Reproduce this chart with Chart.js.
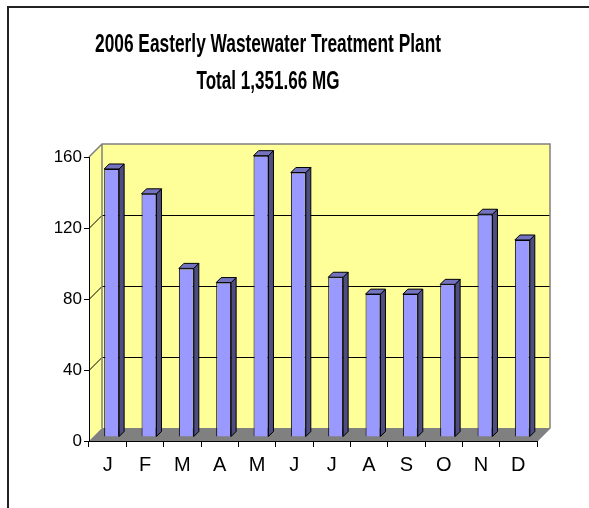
<!DOCTYPE html>
<html>
<head>
<meta charset="utf-8">
<script src="https://cdn.jsdelivr.net/npm/chart.js@4/dist/chart.umd.min.js"></script>
<style>
  body { margin: 0; background: #fff; }
  #wrap { width: 589px; height: 508px; }
</style>
</head>
<body>
<div id="wrap"><canvas id="flowChart" width="589" height="508"></canvas></div>
<script>
const months = ['J', 'F', 'M', 'A', 'M', 'J', 'J', 'A', 'S', 'O', 'N', 'D'];
const flowMG = [151, 137, 95, 87, 158.5, 149, 90, 80.5, 80.5, 86, 125.5, 111];
const yTicks = [0, 40, 80, 120, 160];
const titleLines = ['2006 Easterly Wastewater Treatment Plant', 'Total 1,351.66 MG'];

const FONT = "'Liberation Sans Narrow', 'Arial Narrow', 'Liberation Sans', Arial, sans-serif";
// 3d offsets
const WALL_DX = 13, WALL_DY = -13;
const BAR_DX = 4, BAR_DY = -4;
const DEPTH = 5;

// title drawn condensed (no narrow font installed)
const narrowTitle = {
    id: 'narrowTitle',
    afterDraw(chart) {
        const ctx = chart.ctx;
        const cx = 268;
        const rows = [{ y: 45, w: 346 }, { y: 82, w: 143 }];
        ctx.save();
        ctx.fillStyle = '#000';
        ctx.font = 'bold 25px ' + FONT;
        ctx.textAlign = 'center';
        ctx.textBaseline = 'middle';
        titleLines.forEach((t, i) => {
            const sx = rows[i].w / ctx.measureText(t).width;
            ctx.save();
            ctx.translate(cx, rows[i].y);
            ctx.scale(sx, 1);
            ctx.fillText(t, 0, 0);
            ctx.restore();
        });
        ctx.restore();
    }
};

const walls = {
    id: 'walls',
    beforeDraw(chart) {
        const ctx = chart.ctx;
        const y = chart.scales.y;
        const a = chart.chartArea;
        ctx.save();
        ctx.fillStyle = '#fff';
        ctx.fillRect(0, 0, chart.width, chart.height);

        // frame
        ctx.strokeStyle = '#222';
        ctx.lineWidth = 2;
        ctx.beginPath();
        ctx.moveTo(589, 7);
        ctx.lineTo(8, 7);
        ctx.lineTo(8, 508);
        ctx.stroke();

        const y0 = y.getPixelForValue(0), yTop = y.getPixelForValue(160);
        const bl = a.left + WALL_DX, br = a.right + WALL_DX;

        // back wall
        ctx.fillStyle = '#FFFF99';
        ctx.fillRect(bl, yTop + WALL_DY, br - bl, y0 - yTop);
        // side wall
        ctx.beginPath();
        ctx.moveTo(a.left, y0);
        ctx.lineTo(a.left, yTop);
        ctx.lineTo(bl, yTop + WALL_DY);
        ctx.lineTo(bl, y0 + WALL_DY);
        ctx.closePath();
        ctx.fill();
        // floor
        ctx.fillStyle = '#808080';
        ctx.beginPath();
        ctx.moveTo(a.left, y0);
        ctx.lineTo(a.right, y0);
        ctx.lineTo(br, y0 + WALL_DY);
        ctx.lineTo(bl, y0 + WALL_DY);
        ctx.closePath();
        ctx.fill();

        // gridlines on back wall and diagonals on side wall
        ctx.lineWidth = 1;
        ctx.strokeStyle = '#000';
        yTicks.slice(1, -1).forEach(v => {
            const py = Math.round(y.getPixelForValue(v)) + 0.5;
            ctx.beginPath();
            ctx.moveTo(a.left, py);
            ctx.lineTo(bl, py + WALL_DY);
            ctx.lineTo(br, py + WALL_DY);
            ctx.stroke();
        });

        // wall outline
        ctx.strokeStyle = '#808080';
        ctx.lineWidth = 1.5;
        ctx.beginPath();
        ctx.moveTo(a.left, yTop);
        ctx.lineTo(bl, yTop + WALL_DY);
        ctx.lineTo(br, yTop + WALL_DY);
        ctx.lineTo(br, y0 + WALL_DY);
        ctx.lineTo(a.right, y0);
        ctx.moveTo(bl, yTop + WALL_DY);
        ctx.lineTo(bl, y0 + WALL_DY);
        ctx.stroke();
        ctx.restore();
    },
    beforeDatasetsDraw(chart) {
        chart.ctx.save();
        chart.ctx.translate(BAR_DX, BAR_DY);
    },
    afterDatasetsDraw(chart) {
        const ctx = chart.ctx;
        const bars = chart.getDatasetMeta(0).data;
        ctx.lineWidth = 1;
        ctx.strokeStyle = '#000';
        bars.forEach(bar => {
            const p = bar.getProps(['x', 'y', 'base', 'width'], true);
            const l = p.x - p.width / 2, r = p.x + p.width / 2;
            // side
            ctx.fillStyle = '#4D4D80';
            ctx.beginPath();
            ctx.moveTo(r, p.y);
            ctx.lineTo(r + DEPTH, p.y - DEPTH);
            ctx.lineTo(r + DEPTH, p.base - DEPTH);
            ctx.lineTo(r, p.base);
            ctx.closePath();
            ctx.fill();
            ctx.stroke();
            // top
            ctx.fillStyle = '#7373BF';
            ctx.beginPath();
            ctx.moveTo(l, p.y);
            ctx.lineTo(l + DEPTH, p.y - DEPTH);
            ctx.lineTo(r + DEPTH, p.y - DEPTH);
            ctx.lineTo(r, p.y);
            ctx.closePath();
            ctx.fill();
            ctx.stroke();
        });
        ctx.restore();
    }
};

const data = {
    labels: months,
    datasets: [{
        label: 'MG',
        data: flowMG,
        backgroundColor: '#9999FF',
        borderColor: '#000',
        borderWidth: 1,
        barPercentage: 0.4,
        categoryPercentage: 1
    }]
};

const config = {
    type: 'bar',
    data: data,
    options: {
        responsive: false,
        animation: false,
        events: [],
        layout: { padding: { left: 0, right: 52, top: 157, bottom: 0 } },
        plugins: {
            legend: { display: false },
            tooltip: { enabled: false },
            title: { display: false }
        },
        scales: {
            x: {
                grid: { drawOnChartArea: false, tickLength: 6, color: '#000', offset: true },
                border: { color: '#000', width: 1 },
                ticks: { color: '#000', font: { family: FONT, size: 20 }, padding: 6, maxRotation: 0 },
                afterFit(s) { s.height = 67; }
            },
            y: {
                min: 0,
                max: 160,
                grid: { drawOnChartArea: false, tickLength: 5, color: '#000' },
                border: { color: '#000', width: 1 },
                ticks: { color: '#000', stepSize: 40, font: { family: FONT, size: 17 }, padding: 2 },
                afterFit(s) { s.width = 89; }
            }
        }
    },
    plugins: [walls, narrowTitle]
};

// eslint-disable-next-line
const flowChart = new Chart(document.querySelector('#flowChart'), config);
</script>
</body>
</html>
